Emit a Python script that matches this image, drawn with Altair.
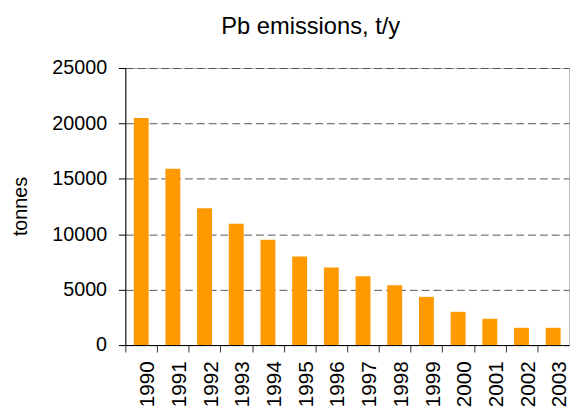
import altair as alt
import pandas as pd

years = ["1990", "1991", "1992", "1993", "1994", "1995", "1996",
         "1997", "1998", "1999", "2000", "2001", "2002", "2003"]
values = [20500, 15900, 12350, 10950, 9500, 8000, 7000,
          6200, 5400, 4350, 3000, 2370, 1560, 1560]
y_ticks = [0, 5000, 10000, 15000, 20000, 25000]

df = pd.DataFrame({"year": years, "value": values})

FONT = "Liberation Sans"

chart = alt.Chart(df).mark_bar(color="#FF9900").encode(
    x=alt.X(
        "year:N", sort=None,
        scale=alt.Scale(paddingInner=0.53, paddingOuter=0.265),
        axis=alt.Axis(
            title=None, labelAngle=270, bandPosition=0,
            tickOffset=-8.5, labelOffset=15.3,
            tickSize=7, tickColor="#333", domainColor="#000",
            labelFontSize=21, labelFont=FONT, labelColor="#000",
            labelPadding=9, grid=False, labelOverlap=False,
        ),
    ),
    y=alt.Y(
        "value:Q",
        scale=alt.Scale(domain=[0, 25000], nice=False),
        axis=alt.Axis(
            values=y_ticks, format="d", title="tonnes", titleFont=FONT, titleFontSize=20,
            titleFontWeight="normal", titleColor="#000", titleAngle=270,
            titleX=-106, titleY=140, titleAlign="center", titleBaseline="middle",
            labelFont=FONT, labelFontSize=20, labelColor="#000", labelPadding=12,
            tickSize=7, tickColor="#000", domainColor="#000",
            grid=True, gridColor="#555", gridDash=[8, 4], gridWidth=1,
        ),
    ),
).properties(
    width=450,
    height=281,
    title=alt.TitleParams(
        "Pb emissions, t/y", font=FONT, fontSize=24, fontWeight="normal",
        color="#000", anchor="middle", dx=-37, offset=20,
    ),
    padding={"left": 119, "top": 58, "right": 2, "bottom": 64},
    autosize="none",
).configure_view(stroke="#bbb", strokeWidth=1)

chart.save("out.html", embed_options={"renderer": "svg", "actions": False})
